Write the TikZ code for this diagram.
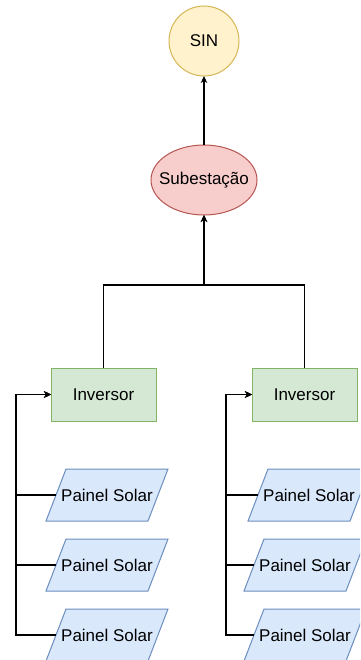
\documentclass[tikz,border=0pt]{standalone}
\usepackage{fontspec}
\setmainfont{Liberation Sans}
\usetikzlibrary{arrows.meta}
\definecolor{sinfill}{HTML}{FFF2CC}
\definecolor{sinline}{HTML}{D6B656}
\definecolor{subfill}{HTML}{F8CECC}
\definecolor{subline}{HTML}{B85450}
\definecolor{invfill}{HTML}{D5E8D4}
\definecolor{invline}{HTML}{82B366}
\definecolor{panfill}{HTML}{DAE8FC}
\definecolor{panline}{HTML}{6C8EBF}
% slanted panel outline around a centre point (x,y), y pointing down
\newcommand\panelshape[2]{%
  \filldraw[draw=panline, fill=panfill, line width=1pt, line join=miter]
    ({#1-41},{#2-26}) -- ({#1+61},{#2-26}) -- ({#1+41},{#2+26})
    -- ({#1-61},{#2+26}) -- cycle;}
\tikzset{
  every node/.style={font=\fontsize{17}{20}\selectfont, inner sep=0pt, outer sep=0pt},
  sinnode/.style={circle, draw=sinline, fill=sinfill, line width=1pt, minimum size=70pt},
  subnode/.style={rectangle, minimum width=106pt, minimum height=70pt},
  invnode/.style={rectangle, draw=invline, fill=invfill, line width=1pt,
    minimum width=105pt, minimum height=53pt},
  pannode/.style={rectangle, minimum width=102pt, minimum height=52pt},
  conn/.style={draw=black, line width=1.1pt},
  arr/.style={conn, -{Stealth[length=7pt, width=6.5pt, inset=2.2pt]}}
}
\begin{document}
\begin{tikzpicture}[x=1pt, y=-1pt]
  \clip (0,0) rectangle (360,660);
  \useasboundingbox (0,0) rectangle (360,660);

  % grid
  \node[sinnode] (sin) at (204,41) {SIN};

  % substation
  \filldraw[draw=subline, fill=subfill, line width=1pt]
    (204,180) ellipse [x radius=53, y radius=35];
  \node[subnode] (sub) at (204,180) {Subestação};

  % inverters
  \node[invnode] (invL) at (103.5,394.5) {Inversor};
  \node[invnode] (invR) at (304.5,394.5) {Inversor};

  % solar panels, left string
  \panelshape{107}{495}\node[pannode] (pL1) at (107,495) {Painel Solar};
  \panelshape{107}{565}\node[pannode] (pL2) at (107,565) {Painel Solar};
  \panelshape{107}{635}\node[pannode] (pL3) at (107,635) {Painel Solar};

  % solar panels, right string
  \panelshape{309}{495}\node[pannode] (pR1) at (309,495) {Painel Solar};
  \panelshape{305}{565}\node[pannode] (pR2) at (305,565) {Painel Solar};
  \panelshape{305}{635}\node[pannode] (pR3) at (305,635) {Painel Solar};

  % bus points
  \coordinate (busL) at (16,394.5);
  \coordinate (busR) at (226,394.5);
  \coordinate (join) at (204,285);

  % panels to inverters
  \foreach \p in {pL1,pL2,pL3}
    \draw[arr] (\p.west) -| (busL) -- (invL.west);
  \foreach \p in {pR1,pR2,pR3}
    \draw[arr] (\p.west) -| (busR) -- (invR.west);

  % inverters to substation
  \draw[arr] (invL.north) |- (join) -- (sub.south);
  \draw[arr] (invR.north) |- (join) -- (sub.south);

  % substation to grid
  \draw[arr] (sub.north) -- (sin.south);
\end{tikzpicture}
\end{document}
